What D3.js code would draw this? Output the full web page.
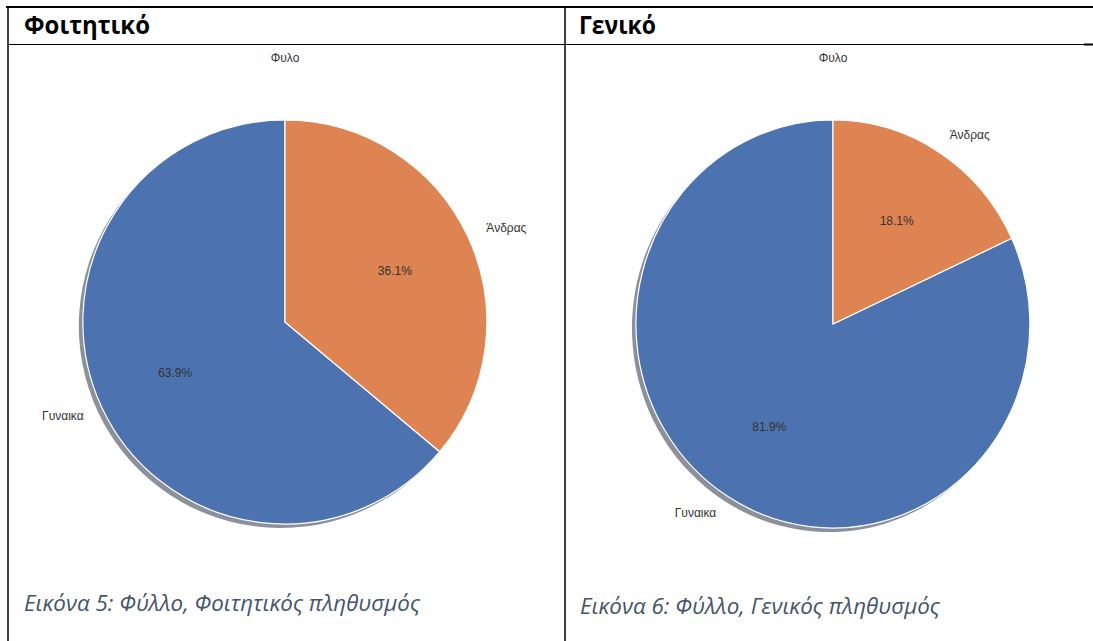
<!DOCTYPE html>
<html><head><meta charset="utf-8">
<script src="https://cdn.jsdelivr.net/npm/d3@7"></script>
<style>body{margin:0;background:#fff}svg{display:block}</style></head>
<body><svg id="c" width="1093" height="641"></svg>
<script>
const categories = ["Γυναικα", "Άνδρας"];
const studentValues = [63.9, 36.1];
const generalValues = [81.9, 18.1];
const panelHeaders = ["Φοιτητικό", "Γενικό"];
const chartTitle = "Φυλο";
const captions = ["Εικόνα 5: Φύλλο, Φοιτητικός πληθυσμός", "Εικόνα 6: Φύλλο, Γενικός πληθυσμός"];
const colors = ["#4C72B0", "#DD8452"];

const svg = d3.select("#c");
svg.append("rect").attr("width", 1093).attr("height", 641).attr("fill", "#fff");

// table grid
const grid = svg.append("g").attr("stroke", "#000");
grid.append("line").attr("x1", 6).attr("x2", 1093).attr("y1", 7).attr("y2", 7).attr("stroke-width", 2);
grid.append("line").attr("x1", 8).attr("x2", 8).attr("y1", 6).attr("y2", 641).attr("stroke-width", 1.5);
grid.append("line").attr("x1", 565).attr("x2", 565).attr("y1", 6).attr("y2", 641).attr("stroke-width", 1.5);
grid.append("line").attr("x1", 8).attr("x2", 1090).attr("y1", 44.5).attr("y2", 44.5).attr("stroke-width", 1);
grid.append("line").attr("x1", 1084).attr("x2", 1093).attr("y1", 44.5).attr("y2", 44.5).attr("stroke-width", 2);

// headers
const headerX = [24, 579];
const headerW = [126, 77];
panelHeaders.forEach((h, i) => {
  svg.append("text").attr("x", headerX[i]).attr("y", 34)
    .attr("font-family", "'Open Sans', 'Noto Sans', sans-serif").attr("font-weight", 700)
    .attr("font-size", 24.5).attr("fill", "#000")
    .attr("textLength", headerW[i]).attr("lengthAdjust", "spacingAndGlyphs")
    .text(h);
});

// captions
const capX = [24, 580], capY = [611, 614], capW = [396, 360];
captions.forEach((c, i) => {
  svg.append("text").attr("x", capX[i]).attr("y", capY[i])
    .attr("font-family", "'Open Sans', 'Noto Sans', sans-serif").attr("font-style", "italic")
    .attr("font-size", 21).attr("fill", "#44546A")
    .attr("textLength", capW[i]).attr("lengthAdjust", "spacingAndGlyphs")
    .text(c);
});

function drawPie(values, cx, cy, rx, ry) {
  const pie = d3.pie().sort(null).startAngle(0).endAngle(-2 * Math.PI);
  const arcs = pie(values);
  const arc = d3.arc().innerRadius(0).outerRadius(1);
  const g = svg.append("g");
  // shadow
  const sh = g.append("g").attr("transform", `translate(${cx - 0.02 * rx},${cy + 0.02 * ry}) scale(${rx},${ry})`);
  sh.selectAll("path").data(arcs).join("path").attr("d", arc)
    .attr("fill", (d, i) => { const c = d3.rgb(colors[i]); return d3.rgb(c.r * 0.3, c.g * 0.3, c.b * 0.3); })
    .attr("fill-opacity", 0.5);
  // wedges
  const wg = g.append("g").attr("transform", `translate(${cx},${cy}) scale(${rx},${ry})`);
  wg.selectAll("path").data(arcs).join("path").attr("d", arc)
    .attr("fill", (d, i) => colors[i])
    .attr("stroke", "#fff").attr("stroke-width", 1.2).attr("vector-effect", "non-scaling-stroke")
    .attr("stroke-linejoin", "round");
  // labels
  arcs.forEach((d, i) => {
    const m = (d.startAngle + d.endAngle) / 2;
    const s = Math.sin(m), c = Math.cos(m);
    g.append("text").attr("x", cx + 1.1 * rx * s).attr("y", cy - 1.1 * ry * c)
      .attr("text-anchor", s > 0 ? "start" : "end").attr("dominant-baseline", "central")
      .attr("font-family", "'Liberation Sans', Arial, sans-serif").attr("font-size", 12).attr("fill", "#333")
      .text(categories[i]);
    g.append("text").attr("x", cx + 0.6 * rx * s).attr("y", cy - 0.6 * ry * c)
      .attr("text-anchor", "middle").attr("dominant-baseline", "central")
      .attr("font-family", "'Liberation Sans', Arial, sans-serif").attr("font-size", 12).attr("fill", "#333")
      .text(d.data.toFixed(1) + "%");
  });
  g.append("text").attr("x", cx).attr("y", 58).attr("text-anchor", "middle").attr("dominant-baseline", "central")
    .attr("font-family", "'Liberation Sans', Arial, sans-serif").attr("font-size", 12).attr("fill", "#333")
    .text(chartTitle);
}

drawPie(studentValues, 285, 322, 202, 202);
drawPie(generalValues, 833, 324, 197, 204);
</script></body></html>
